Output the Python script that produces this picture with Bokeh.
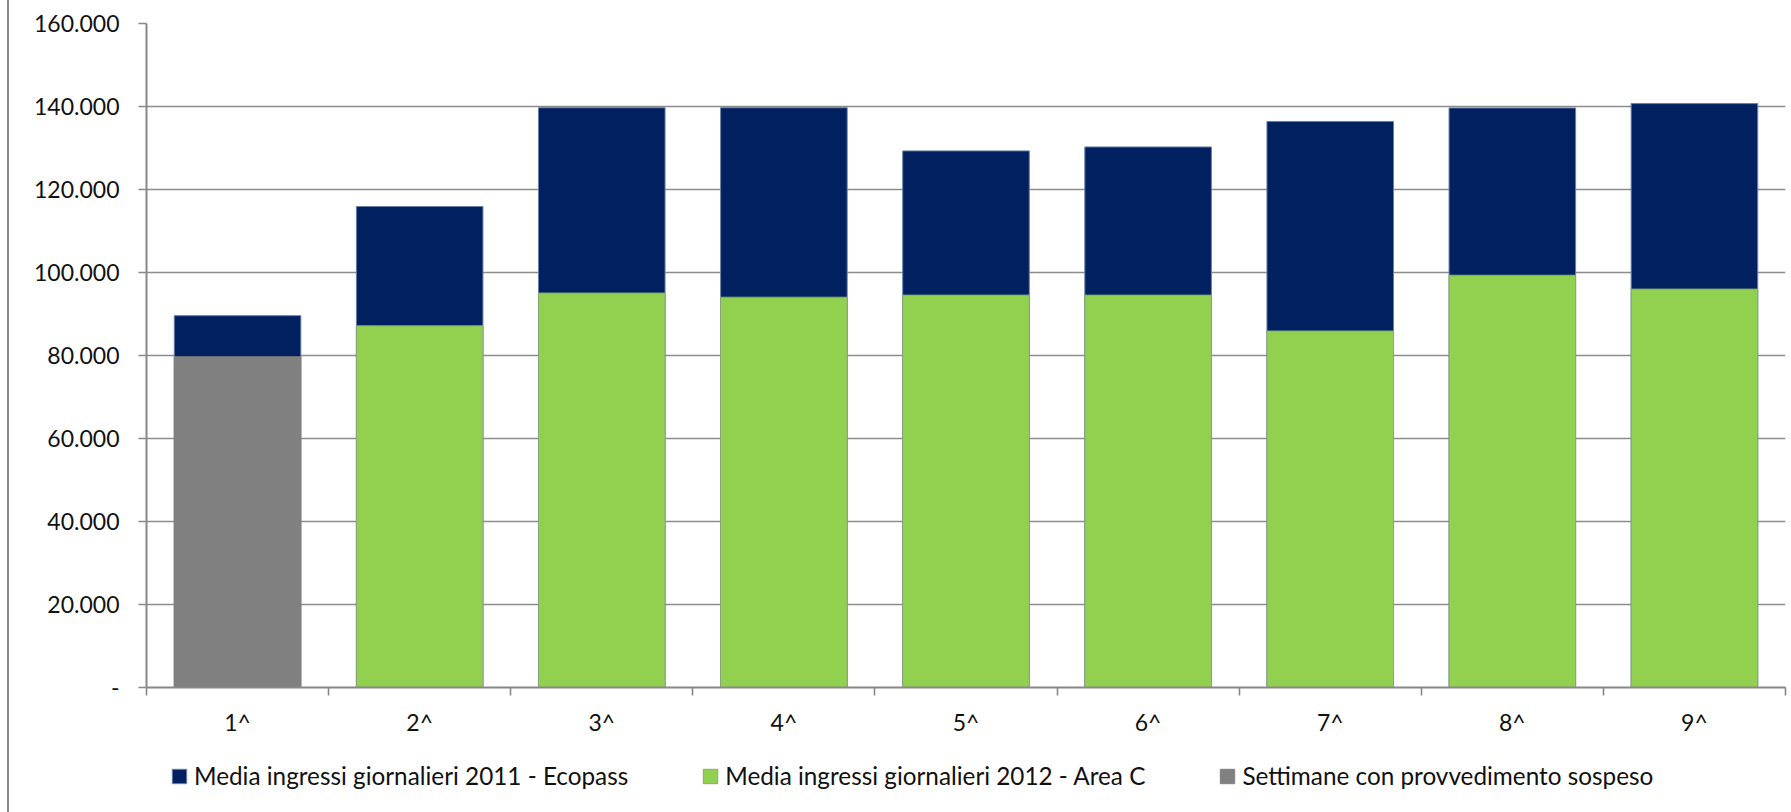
from bokeh.plotting import figure
from bokeh.layouts import column
from bokeh.models import (ColumnDataSource, Range1d, FixedTicker, Legend, LegendItem)
from bokeh.embed import file_html
from bokeh.resources import INLINE

# ---- data ----
categories = ["1^", "2^", "3^", "4^", "5^", "6^", "7^", "8^", "9^"]
ecopass_2011 = [89600, 115900, 139700, 139700, 129300, 130250, 136400, 139650, 140700]
areac_2012 = [None, 87150, 95050, 94050, 94550, 94550, 85900, 99350, 96000]
sospeso = [79700, None, None, None, None, None, None, None, None]
y_ticks = [0, 20000, 40000, 60000, 80000, 100000, 120000, 140000, 160000]

labels = {
    "eco": "Media ingressi giornalieri 2011 - Ecopass",
    "area": "Media ingressi giornalieri 2012 - Area C",
    "sosp": "Settimane con provvedimento sospeso",
}

FONT = "Lato"
TXT = "#111111"
AXC = "#888888"
BORDER = {"margin-left": "7px", "border-left": "2px solid #8a8a8a"}

idx = list(range(1, len(categories) + 1))


def sources():
    eco = ColumnDataSource(dict(x=idx, top=ecopass_2011))
    area = ColumnDataSource(dict(
        x=[i for i, v in zip(idx, areac_2012) if v is not None],
        top=[v for v in areac_2012 if v is not None]))
    sosp = ColumnDataSource(dict(
        x=[i for i, v in zip(idx, sospeso) if v is not None],
        top=[v for v in sospeso if v is not None]))
    return eco, area, sosp


W = 0.695
STY = [dict(fill_color="#002060", line_color="#6a7fa6", line_width=1),
       dict(fill_color="#92D050", line_color="#8aa67a", line_width=1),
       dict(fill_color="#808080", line_color="#808080", line_width=1)]

# ---- main chart ----
p = figure(width=1782, height=745, output_backend="svg", toolbar_location=None,
           x_range=Range1d(0.5, len(categories) + 0.5), y_range=Range1d(0, 160000),
           min_border_left=137, min_border_right=6, min_border_top=23, min_border_bottom=58)
p.outline_line_color = None
p.background_fill_color = "white"
p.border_fill_color = "white"

for src, sty in zip(sources(), STY):
    p.vbar(x="x", top="top", width=W, bottom=0, source=src, **sty)

p.xgrid.grid_line_color = None
p.ygrid.grid_line_color = "#8c8c8c"
p.ygrid.grid_line_width = 1.6

yax = p.yaxis[0]
yax.ticker = FixedTicker(ticks=y_ticks)
yax.major_label_overrides = {v: ("-" if v == 0 else f"{v:,}".replace(",", ".")) for v in y_ticks}
yax.axis_line_color = AXC
yax.axis_line_width = 2
yax.major_tick_line_color = AXC
yax.major_tick_line_width = 1.6
yax.major_tick_out = 8
yax.major_tick_in = 0
yax.minor_tick_line_color = None
yax.major_label_text_font = FONT
yax.major_label_text_font_size = "23px"
yax.major_label_text_color = TXT
yax.major_label_standoff = 19

xax = p.xaxis[0]
xax.ticker = FixedTicker(ticks=idx, minor_ticks=[i + 0.5 for i in range(0, len(categories) + 1)])
xax.major_label_overrides = {i: c for i, c in zip(idx, categories)}
xax.axis_line_color = AXC
xax.axis_line_width = 2
xax.major_tick_line_color = None
xax.major_tick_out = 0
xax.major_tick_in = 0
xax.minor_tick_line_color = AXC
xax.minor_tick_line_width = 1.6
xax.minor_tick_out = 8
xax.minor_tick_in = 0
xax.major_label_text_font = FONT
xax.major_label_text_font_size = "23px"
xax.major_label_text_color = TXT
xax.major_label_standoff = 12

# ---- legend strip (its renderers are hidden; only the legend shows) ----
lg = figure(width=1782, height=67, output_backend="svg", toolbar_location=None,
            x_range=Range1d(0.5, len(categories) + 0.5), y_range=Range1d(0, 160000),
            x_axis_type=None, y_axis_type=None,
            min_border_left=137, min_border_right=6, min_border_top=0, min_border_bottom=0)
lg.outline_line_color = None
lg.grid.visible = False
lg.background_fill_color = "white"
lg.border_fill_color = "white"
rs = [lg.vbar(x="x", top="top", width=W, bottom=0, source=src, visible=False, **sty)
      for src, sty in zip(sources(), STY)]

legend = Legend(items=[
    LegendItem(label=labels["eco"], renderers=[rs[0]]),
    LegendItem(label=labels["area"], renderers=[rs[1]]),
    LegendItem(label=labels["sosp"], renderers=[rs[2]]),
], orientation="horizontal", location=(24, 22))
legend.label_text_font = FONT
legend.label_text_font_size = "24.3px"
legend.label_text_color = TXT
legend.glyph_width = 18
legend.glyph_height = 18
legend.label_standoff = 6
legend.spacing = 73
legend.padding = 0
legend.margin = 0
legend.border_line_color = None
legend.background_fill_alpha = 0
legend.inactive_fill_alpha = 0
legend.label_height = 18
lg.add_layout(legend, "center")

layout = column(p, lg, spacing=0)
layout.styles = BORDER
open("out.html", "w").write(file_html(layout, INLINE))
